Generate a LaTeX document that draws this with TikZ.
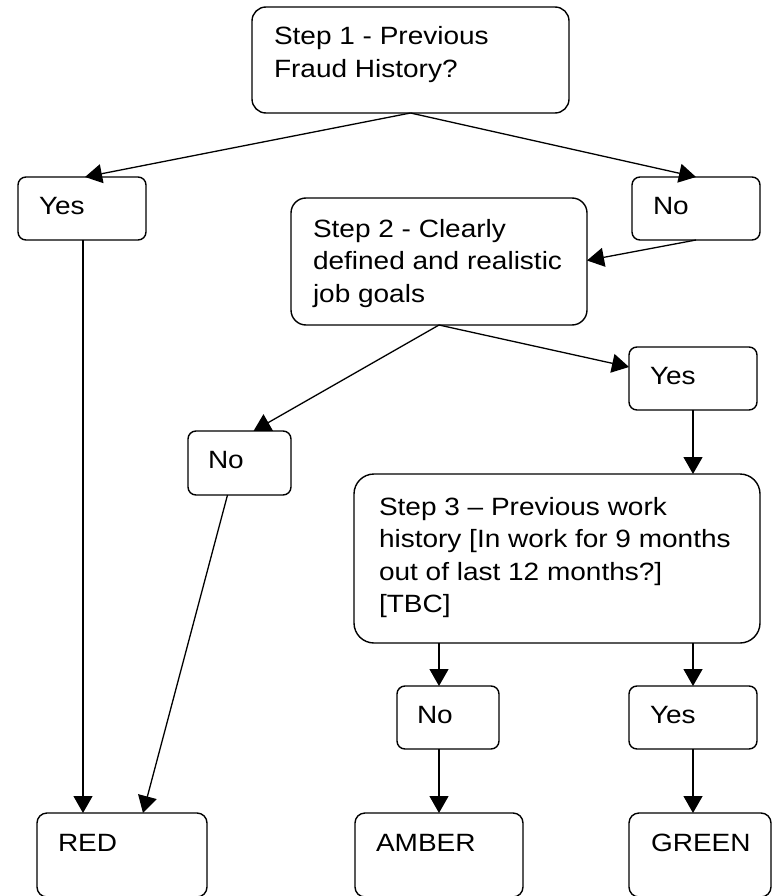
\documentclass[tikz,border=0pt]{standalone}
\usepackage{fontspec}
\setmainfont{Liberation Sans}[FakeStretch=1.12]
\usetikzlibrary{arrows.meta,calc}
\newcommand{\mylines}[1]{\begin{tabular}[t]{@{}l@{}}#1\end{tabular}}
\begin{document}
\begin{tikzpicture}[x=1pt,y=-1pt,
  box/.style={draw, line width=1.4pt, fill=white, inner sep=0pt, outer sep=0pt, anchor=north west, rounded corners=8pt},
  txt/.style={anchor=base west, inner sep=0pt, outer sep=0pt, font=\fontsize{25}{32.5}\selectfont},
  arr/.style={line width=1.3pt, -{Triangle[length=17pt,width=19pt]}}]
\useasboundingbox (0,0) rectangle (773,896);
% boxes
\node[box, rounded corners=14pt, minimum width=317pt, minimum height=106pt] (s1) at (252,7) {};
\node[box, minimum width=128pt, minimum height=63pt] (yes1) at (18,177) {};
\node[box, minimum width=128pt, minimum height=63pt] (no1) at (632,177) {};
\node[box, rounded corners=15pt, minimum width=296pt, minimum height=127pt] (s2) at (291,198) {};
\node[box, minimum width=128pt, minimum height=63pt] (yes2) at (629,347) {};
\node[box, minimum width=103pt, minimum height=64pt] (no2) at (188,431) {};
\node[box, rounded corners=20pt, minimum width=406pt, minimum height=169pt] (s3) at (354,474) {};
\node[box, minimum width=102pt, minimum height=63pt] (no3) at (397,686) {};
\node[box, minimum width=128pt, minimum height=63pt] (yes3) at (629,686) {};
\node[box, rounded corners=10pt, minimum width=170pt, minimum height=84pt] (red) at (37,813) {};
\node[box, rounded corners=10pt, minimum width=168pt, minimum height=84pt] (amber) at (355,813) {};
\node[box, rounded corners=10pt, minimum width=142pt, minimum height=84pt] (green) at (629,813) {};
% texts
\node[txt] (s1t) at (274,45) {\mylines{Step 1 - Previous\\Fraud History?}};
\node[txt] (yes1t) at (39,214) {Yes};
\node[txt] (no1t) at (653,214) {No};
\node[txt] (s2t) at (313,237) {\mylines{Step 2 - Clearly\\defined and realistic\\job goals}};
\node[txt] (yes2t) at (650,384) {Yes};
\node[txt] (no2t) at (208,468) {No};
\node[txt] (s3t) at (379,515) {\mylines{Step 3 – Previous work\\history [In work for 9 months\\out of last 12 months?]\\{[TBC]}}};
\node[txt] (no3t) at (417,723) {No};
\node[txt] (yes3t) at (650,723) {Yes};
\node[txt] (redt) at (58,851) {RED};
\node[txt] (ambert) at (376,851) {AMBER};
\node[txt] (greent) at (651,851) {GREEN};
% connectors
\draw[arr] (s1.south) -- ($(yes1.north)+(3,0)$);
\draw[arr] (s1.south) -- (no1.north);
\draw[arr] (no1.south) -- ($(s2.east)+(0,-1)$);
\draw[arr] (s2.south) -- ($(yes2.north west)+(0,20)$);
\draw[arr] (s2.south) -- ($(no2.north)+(14,0)$);
\draw[arr] (yes2.south) -- (yes2.south |- s3.north);
\draw[arr] ($(yes1.south)+(1,0)$) -- ($(yes1.south |- red.north)+(1,0)$);
\draw[arr] ($(no2.south)+(-12,0)$) -- ($(red.north)+(21,0)$);
\draw[arr] (439,0 |- s3.south) -- (439,0 |- no3.north);
\draw[arr] (439,0 |- no3.south) -- (439,0 |- amber.north);
\draw[arr] (yes3.north |- s3.south) -- (yes3.north);
\draw[arr] (yes3.south) -- (yes3.south |- green.north);
\end{tikzpicture}
\end{document}
